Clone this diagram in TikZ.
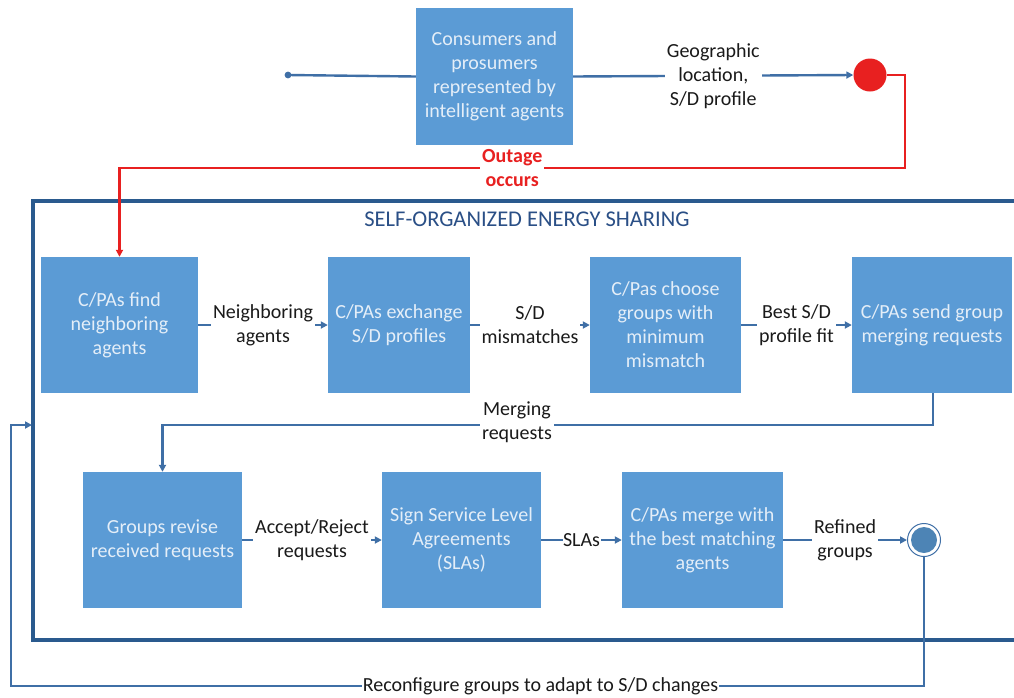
\documentclass[tikz,border=0pt]{standalone}
\usepackage{fontspec}
\setmainfont{Carlito}
\usetikzlibrary{arrows.meta,positioning,calc}
\definecolor{boxblue}{HTML}{5B9BD5}
\definecolor{boxtext}{HTML}{E4EEF8}
\definecolor{connblue}{HTML}{3F6FA6}
\definecolor{framblue}{HTML}{2A5A8E}
\definecolor{titleblue}{HTML}{2A4F86}
\definecolor{outred}{HTML}{E82020}
\definecolor{labtext}{HTML}{1A1A1A}
\begin{document}
\begin{tikzpicture}[x=1pt,y=-1pt,
  blk/.style={fill=boxblue,text=boxtext,align=center,inner sep=0pt,
    font=\fontsize{20}{24}\selectfont},
  conn/.style={draw=connblue,line width=2.4pt},
  arr/.style={-{Triangle[length=7pt,width=7pt]}},
  lab/.style={fill=white,text=labtext,align=center,inner sep=2pt,
    font=\fontsize{20}{24}\selectfont},
  redlab/.style={fill=white,text=outred,align=center,inner sep=2pt,
    font=\fontsize{20}{24}\selectfont\bfseries},
]
\useasboundingbox (0,0) rectangle (1014,697);
\fill[white] (0,0) rectangle (1014,697);

% frame
\draw[framblue,line width=3.4pt] (1040,201) -- (33,201) -- (33,640) -- (1040,640);
\node[text=titleblue,font=\fontsize{22.5}{26}\selectfont] (title) at (527,219) {SELF-ORGANIZED ENERGY SHARING};

% top box
\node[blk,minimum width=157pt,minimum height=137pt] (top) at (494.5,76.5)
  {Consumers and\\prosumers\\represented by\\intelligent agents};
\fill[connblue] (288,75) circle (3.4pt);
\coordinate (start) at (288,75);
\node[circle,fill=outred,minimum size=33pt,inner sep=0pt] (red) at (870,75) {};

% row 1
\node[blk,minimum width=157pt,minimum height=136pt] (b1) at (119.5,325)
  {C/PAs find\\neighboring\\agents};
\node[blk,minimum width=142pt,minimum height=136pt] (b2) at (399,325)
  {C/PAs exchange\\S/D profiles};
\node[blk,minimum width=151pt,minimum height=136pt] (b3) at (665.5,325)
  {C/Pas choose\\groups with\\minimum\\mismatch};
\node[blk,minimum width=160pt,minimum height=136pt] (b4) at (932,325)
  {C/PAs send group\\merging requests};

% row 2
\node[blk,minimum width=159pt,minimum height=136pt] (b5) at (162.5,540)
  {Groups revise\\received requests};
\node[blk,minimum width=159pt,minimum height=136pt] (b6) at (461.5,540)
  {Sign Service Level\\Agreements\\(SLAs)};
\node[blk,minimum width=161pt,minimum height=136pt] (b7) at (702.5,540)
  {C/PAs merge with\\the best matching\\agents};
\node[circle,draw=connblue,line width=1pt,fill=white,minimum size=33pt,inner sep=0pt] (endc) at (924,540) {};
\fill[boxblue!85!black] (endc.center) circle (13pt);

% top connectors
\draw[conn] (start) -- (top.west);
\draw[conn,arr] (top.east) -- node[lab]{Geographic\\location,\\S/D profile} (red.west);

% outage
\coordinate (r1) at (905,75);
\coordinate (r2) at (905,168);
\coordinate (r3) at (119.5,168);
\draw[outred,line width=2.2pt,arr] (red.east) -- (r1) -- (r2) -- node[redlab,pos=0.5]{Outage\\occurs} (r3) -- (b1.north);

% row 1 connectors
\draw[conn,arr] (b1.east) -- node[lab]{Neighboring\\agents} (b2.west);
\draw[conn,arr] (b2.east) -- node[lab]{S/D\\mismatches} (b3.west);
\draw[conn,arr] (b3.east) -- node[lab]{Best S/D\\profile fit} (b4.west);

% merging requests
\coordinate (m1) at (933,425);
\coordinate (m2) at (162.5,425);
\draw[conn,arr] (b4.south -| m1) -- (m1) -- node[lab,pos=0.54,yshift=3pt]{Merging\\requests} (m2) -- (b5.north);

% row 2 connectors
\draw[conn,arr] (b5.east) -- node[lab]{Accept/Reject\\requests} (b6.west);
\draw[conn,arr] (b6.east) -- node[lab,inner sep=0.5pt]{SLAs} (b7.west);
\draw[conn,arr] (b7.east) -- node[lab]{Refined\\groups} (endc.west);

% reconfigure loop
\coordinate (l1) at (924,686);
\coordinate (l2) at (11,686);
\coordinate (l3) at (11,425);
\coordinate (fin) at (32,425);
\draw[conn,arr] (endc.south) -- (l1) -- node[lab,pos=0.42,inner sep=1pt]{Reconfigure groups to adapt to S/D changes} (l2) -- (l3) -- (fin);
\end{tikzpicture}
\end{document}
